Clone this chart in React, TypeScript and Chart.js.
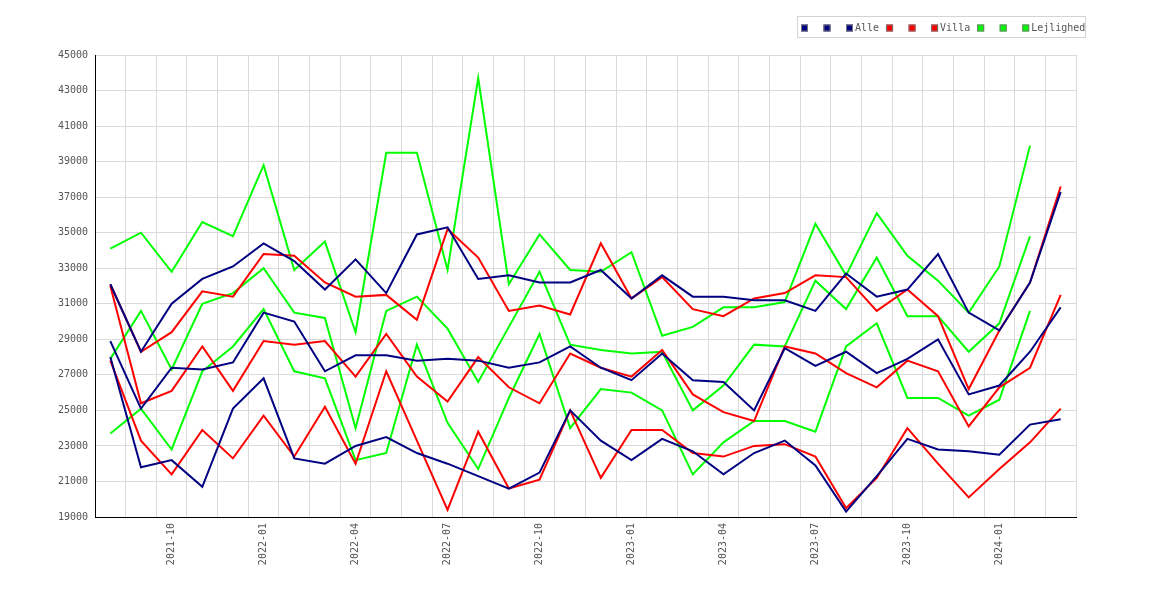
import React, { useEffect, useRef } from 'react';
import { Chart, registerables } from 'chart.js';

Chart.register(...registerables);

// months shown on the x axis (only every third one gets a visible label)
const months = [
  '2021-08', '2021-09', '2021-10', '2021-11', '2021-12', '2022-01', '2022-02', '2022-03',
  '2022-04', '2022-05', '2022-06', '2022-07', '2022-08', '2022-09', '2022-10', '2022-11',
  '2022-12', '2023-01', '2023-02', '2023-03', '2023-04', '2023-05', '2023-06', '2023-07',
  '2023-08', '2023-09', '2023-10', '2023-11', '2023-12', '2024-01', '2024-02', '2024-03',
];

const alleHigh = [32100, 28300, 31000, 32400, 33100, 34400, 33400, 31800, 33500, 31600, 34900, 35300, 32400, 32600, 32200, 32200, 32900, 31300, 32600, 31400, 31400, 31200, 31200, 30600, 32700, 31400, 31800, 33800, 30500, 29500, 32200, 37300];
const alleMid = [28900, 25100, 27400, 27300, 27700, 30500, 30000, 27200, 28100, 28100, 27800, 27900, 27800, 27400, 27700, 28600, 27400, 26700, 28200, 26700, 26600, 25000, 28500, 27500, 28300, 27100, 27900, 29000, 25900, 26400, 28300, 30800];
const alleLow = [28000, 21800, 22200, 20700, 25100, 26800, 22300, 22000, 23000, 23500, 22600, 22000, 21300, 20600, 21500, 25000, 23300, 22200, 23400, 22700, 21400, 22600, 23300, 21900, 19300, 21300, 23400, 22800, 22700, 22500, 24200, 24500];

const villaHigh = [32100, 28300, 29400, 31700, 31400, 33800, 33700, 32200, 31400, 31500, 30100, 35200, 33600, 30600, 30900, 30400, 34400, 31300, 32500, 30700, 30300, 31300, 31600, 32600, 32500, 30600, 31800, 30300, 26200, 29500, 32200, 37600];
const villaMid = [32000, 25400, 26100, 28600, 26100, 28900, 28700, 28900, 26900, 29300, 26900, 25500, 28000, 26300, 25400, 28200, 27400, 26900, 28400, 25900, 24900, 24400, 28600, 28200, 27100, 26300, 27800, 27200, 24100, 26300, 27400, 31500];
const villaLow = [27800, 23300, 21400, 23900, 22300, 24700, 22400, 25200, 22000, 27200, 23300, 19400, 23800, 20600, 21100, 25000, 21200, 23900, 23900, 22600, 22400, 23000, 23100, 22400, 19500, 21200, 24000, 22000, 20100, 21700, 23200, 25100];

const lejlighedHigh = [34100, 35000, 32800, 35600, 34800, 38800, 32900, 34500, 29400, 39500, 39500, 32900, 43700, 32100, 34900, 32900, 32800, 33900, 29200, 29700, 30800, 30800, 31100, 35500, 32600, 36100, 33700, 32300, 30500, 33100, 39900, null];
const lejlighedMid = [27900, 30600, 27300, 31000, 31600, 33000, 30500, 30200, 24000, 30600, 31400, 29600, 26600, 29700, 32800, 28700, 28400, 28200, 28300, 25000, 26400, 28700, 28600, 32300, 30700, 33600, 30300, 30300, 28300, 29900, 34800, null];
const lejlighedLow = [23700, 25100, 22800, 27200, 28600, 30700, 27200, 26800, 22200, 22600, 28700, 24300, 21700, 25700, 29300, 24000, 26200, 26000, 25000, 21400, 23200, 24400, 24400, 23800, 28600, 29900, 25700, 25700, 24700, 25600, 30600, null];

const FONT = '"DejaVu Sans Mono", monospace';
const TEXT = '#555555';

// small boxed legend in the top right corner, like the original image
const boxLegend = {
  id: 'boxLegend',
  afterDraw(chart: any) {
    const ctx = chart.ctx;
    ctx.save();
    ctx.font = `10px ${FONT}`;
    ctx.textBaseline = 'middle';
    ctx.lineWidth = 1;
    ctx.strokeStyle = '#d4d4d4';
    ctx.strokeRect(797.5, 16.5, 288, 21);
    let x = 801;
    chart.data.datasets.forEach((ds: any) => {
      ctx.fillStyle = ds.borderColor;
      ctx.fillRect(x, 24.5, 7, 7);
      ctx.strokeStyle = '#777777';
      ctx.strokeRect(x + 0.5, 25, 6, 6);
      if (ds.label) {
        ctx.fillStyle = TEXT;
        ctx.fillText(ds.label, x + 9, 28.5);
        x += 9 + ctx.measureText(ds.label).width + 7;
      } else {
        x += 22.5;
      }
    });
    ctx.restore();
  },
};

export default function App() {
  const chartRef = useRef<HTMLCanvasElement>(null);

  useEffect(() => {
    if (!chartRef.current) return;

    const line = (label: string, color: string, data: (number | null)[]) => ({
      label,
      data,
      borderColor: color,
      backgroundColor: color,
      borderWidth: 2,
      pointRadius: 0,
      tension: 0,
      fill: false,
    });

    const config: any = {
      type: 'line',
      data: {
        labels: months,
        datasets: [
          line('', '#000080', alleHigh),
          line('', '#000080', alleMid),
          line('Alle', '#000080', alleLow),
          line('', '#ff0000', villaHigh),
          line('', '#ff0000', villaMid),
          line('Villa', '#ff0000', villaLow),
          line('', '#00ff00', lejlighedHigh),
          line('', '#00ff00', lejlighedMid),
          line('Lejlighed', '#00ff00', lejlighedLow),
        ],
      },
      options: {
        animation: false,
        responsive: true,
        maintainAspectRatio: false,
        layout: { padding: { left: 0, right: 94, top: 55, bottom: 0 } },
        plugins: {
          legend: { display: false },
          tooltip: { enabled: false },
        },
        scales: {
          x: {
            type: 'category',
            offset: true,
            grid: { offset: true, color: '#dadada', drawTicks: false },
            border: { color: '#000000', width: 1 },
            ticks: {
              autoSkip: false,
              minRotation: 90,
              maxRotation: 90,
              padding: 6,
              color: TEXT,
              font: { family: FONT, size: 10 },
              callback: (_v: any, i: number) => (i % 3 === 2 ? months[i] : ''),
            },
            afterFit: (s: any) => { s.height = 83; },
          },
          y: {
            min: 19000,
            max: 45000,
            grid: { color: '#dadada', drawTicks: false },
            border: { color: '#000000', width: 1 },
            ticks: {
              stepSize: 2000,
              padding: 7,
              color: TEXT,
              font: { family: FONT, size: 10 },
              callback: (v: any) => String(v),
            },
            afterFit: (s: any) => { s.width = 95; },
          },
        },
      },
      plugins: [boxLegend],
    };

    const chart = new Chart(chartRef.current, config);
    return () => {
      chart.destroy();
    };
  }, []);

  return (
    <div style={{ position: 'fixed', left: 0, top: 0, width: 1170, height: 600, background: '#fff' }}>
      <canvas ref={chartRef}></canvas>
    </div>
  );
}
